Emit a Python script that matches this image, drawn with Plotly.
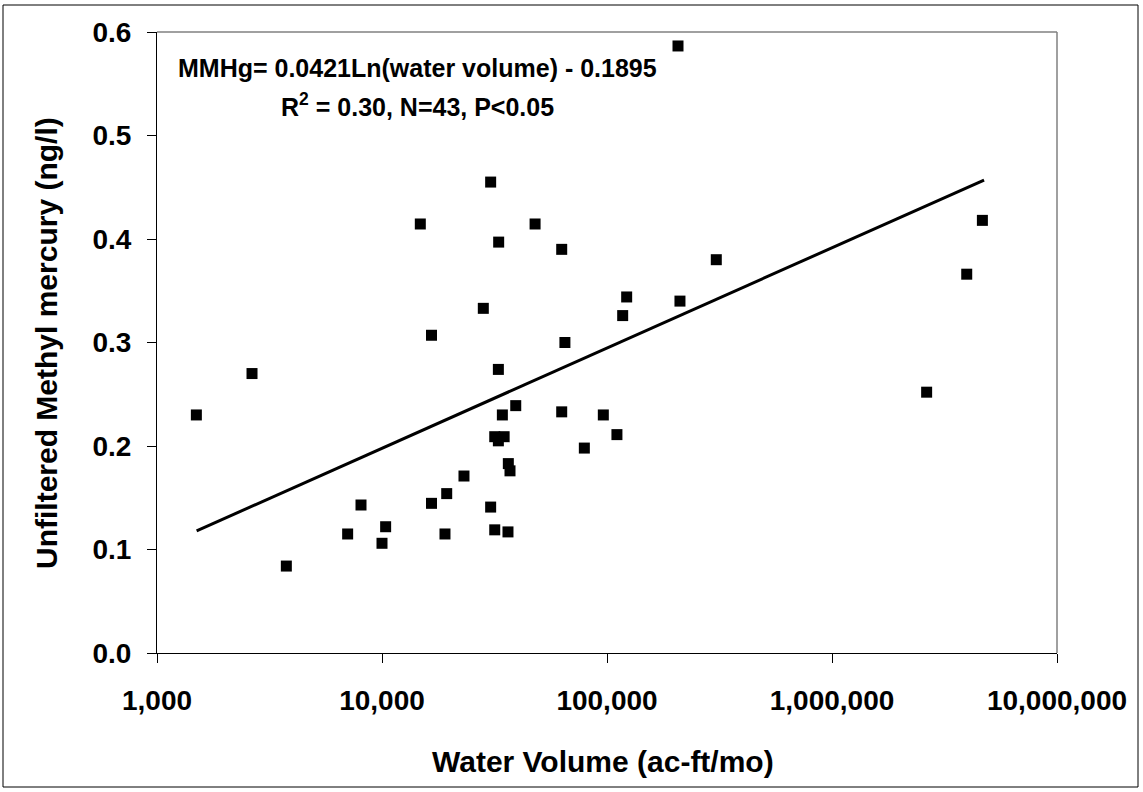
import plotly.graph_objects as go

# Observed data: water volume (ac-ft/mo) vs unfiltered methyl mercury (ng/l)
water_volume = [
    30400, 14800, 47900, 33000, 62900, 28200, 16600, 65000, 2644, 1496,
    32900, 39300, 34270, 62900, 96300, 31700, 34900, 32900, 79300, 36430,
    37060, 23140, 19390, 8066, 16600, 30400, 7036, 10380, 10000, 19050,
    31700, 36300, 3757, 206800, 4660000, 3970000, 306000, 122300, 211000,
    117400, 2634000, 110700,
]
methyl_hg = [
    0.455, 0.4145, 0.4145, 0.397, 0.390, 0.333, 0.307, 0.300, 0.270, 0.230,
    0.274, 0.239, 0.230, 0.233, 0.230, 0.209, 0.209, 0.205, 0.198, 0.183,
    0.176, 0.171, 0.154, 0.143, 0.1446, 0.141, 0.115, 0.122, 0.106, 0.115,
    0.119, 0.117, 0.084, 0.5865, 0.418, 0.366, 0.380, 0.344, 0.340,
    0.326, 0.252, 0.211,
]

# Logarithmic trend line (straight on a log axis), endpoints
trend_x = [1500, 4740000]
trend_y = [0.118, 0.457]

x_tickvals = [1000, 10000, 100000, 1000000, 10000000]
x_ticktext = ["1,000", "10,000", "100,000", "1,000,000", "10,000,000"]
y_tickvals = [0.0, 0.1, 0.2, 0.3, 0.4, 0.5, 0.6]

FONT = "Liberation Sans, Arial, sans-serif"

W, H = 1143, 792
L, R, T, B = 157, 86, 32, 139
PW, PH = W - L - R, H - T - B


def px_x(px):
    return (px - L) / PW


def px_y(py):
    return (H - B - py) / PH


fig = go.Figure()
fig.add_trace(go.Scatter(
    x=trend_x, y=trend_y, mode="lines",
    line=dict(color="black", width=3),
    showlegend=False, hoverinfo="skip",
))
fig.add_trace(go.Scatter(
    x=water_volume, y=methyl_hg, mode="markers",
    marker=dict(symbol="square", size=11, color="black", line=dict(width=0)),
    showlegend=False,
))

fig.update_layout(
    width=W, height=H,
    margin=dict(l=L, r=R, t=T, b=B, pad=0),
    paper_bgcolor="white", plot_bgcolor="white",
    font=dict(family=FONT, color="black"),
    xaxis=dict(
        type="log", range=[3, 7],
        tickvals=x_tickvals, ticktext=x_ticktext,
        ticks="outside", ticklen=9, tickwidth=1, tickcolor="black",
        showline=True, linecolor="black", linewidth=1,
        showgrid=False, zeroline=False,
        tickfont=dict(family=FONT, size=28, weight="bold", color="black"),
        ticklabelstandoff=13,
    ),
    yaxis=dict(
        range=[0, 0.6], tickvals=y_tickvals, tickformat=".1f",
        ticks="outside", ticklen=9, tickwidth=1, tickcolor="black",
        showline=True, linecolor="black", linewidth=1,
        showgrid=False, zeroline=False,
        tickfont=dict(family=FONT, size=28, weight="bold", color="black"),
        ticklabelstandoff=10,
    ),
    shapes=[
        # plot-area frame (top and right, gray)
        dict(type="line", xref="paper", yref="paper", x0=0, x1=1, y0=1, y1=1,
             line=dict(color="#808080", width=1.5)),
        dict(type="line", xref="paper", yref="paper", x0=1, x1=1, y0=0, y1=1,
             line=dict(color="#808080", width=1.5)),
        # outer chart border
        dict(type="rect", xref="paper", yref="paper",
             x0=px_x(3), x1=px_x(1138), y0=px_y(787), y1=px_y(5),
             line=dict(color="black", width=1), fillcolor="rgba(0,0,0,0)"),
    ],
    annotations=[
        dict(text="MMHg= 0.0421Ln(water volume) - 0.1895",
             xref="paper", yref="paper", x=px_x(417.5), y=px_y(68),
             xanchor="center", yanchor="middle", showarrow=False,
             font=dict(family=FONT, size=25, weight="bold", color="black")),
        dict(text="R<sup>2</sup> = 0.30, N=43, P&lt;0.05",
             xref="paper", yref="paper", x=px_x(417), y=px_y(105),
             xanchor="center", yanchor="middle", showarrow=False,
             font=dict(family=FONT, size=25, weight="bold", color="black")),
        dict(text="Water Volume (ac-ft/mo)",
             xref="paper", yref="paper", x=px_x(602.5), y=px_y(762),
             xanchor="center", yanchor="middle", showarrow=False,
             font=dict(family=FONT, size=30, weight="bold", color="black")),
        dict(text="Unfiltered Methyl mercury (ng/l)",
             xref="paper", yref="paper", x=px_x(46), y=px_y(343),
             xanchor="center", yanchor="middle", showarrow=False, textangle=-90,
             font=dict(family=FONT, size=30, weight="bold", color="black")),
    ],
)

fig.write_html("out.html")
